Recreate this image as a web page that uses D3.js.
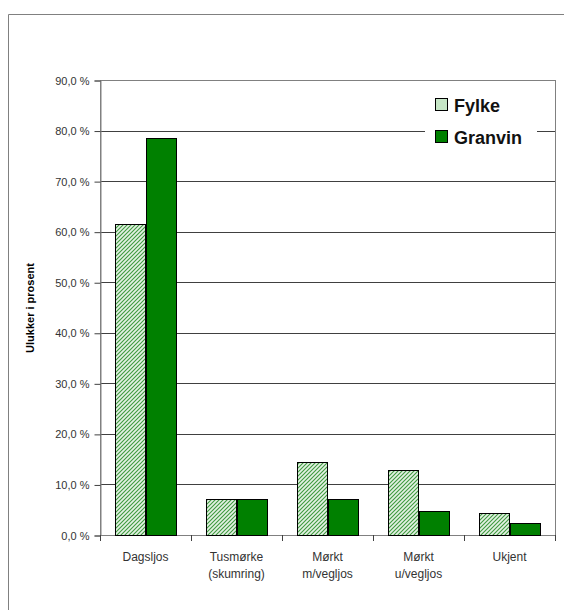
<!DOCTYPE html>
<html>
<head>
<meta charset="utf-8">
<script src="https://cdn.jsdelivr.net/npm/d3@7"></script>
<style>
  html, body { margin: 0; padding: 0; background: #fff; }
  svg { display: block; font-family: "Liberation Sans", Arial, sans-serif; }
</style>
</head>
<body>
<svg id="chart" width="564" height="610"></svg>
<script>
// Accident share by light condition, county vs. Granvin
const categories = [["Dagsljos"], ["Tusmørke", "(skumring)"], ["Mørkt", "m/vegljos"], ["Mørkt", "u/vegljos"], ["Ukjent"]];
const seriesNames = ["Fylke", "Granvin"];
const fylkeValues = [61.5, 7.1, 14.4, 12.9, 4.3];
const granvinValues = [78.6, 7.1, 7.1, 4.8, 2.4];
const yTicks = [0, 10, 20, 30, 40, 50, 60, 70, 80, 90];

const svg = d3.select("#chart");

// outer chart frame
svg.append("path")
  .attr("d", "M8.5,610 V14.5 H564")
  .attr("fill", "none").attr("stroke", "#808080").attr("stroke-width", 1);

const plot = { left: 100, right: 555, top: 80, bottom: 535 };

// hatch fill for the county series
const defs = svg.append("defs");
const pat = defs.append("pattern")
  .attr("id", "hatch").attr("patternUnits", "userSpaceOnUse")
  .attr("width", 4).attr("height", 4);
pat.append("rect").attr("width", 4).attr("height", 4).attr("fill", "#e4f2e4");
pat.append("path")
  .attr("d", "M-1,1 L1,-1 M0,4 L4,0 M3,5 L5,3")
  .attr("stroke", "#3f9a3f").attr("stroke-width", 1.1);

const x = d3.scaleBand()
  .domain(categories.map((c, i) => i))
  .range([plot.left, plot.right]);
const xInner = d3.scaleBand()
  .domain(seriesNames)
  .range([0, x.bandwidth()])
  .paddingOuter(0.5).paddingInner(0);
const y = d3.scaleLinear().domain([0, 90]).range([plot.bottom, plot.top]);

// gridlines
svg.append("g").selectAll("line")
  .data(yTicks.filter(t => t > 0 && t < 90))
  .join("line")
  .attr("x1", plot.left).attr("x2", plot.right)
  .attr("y1", d => Math.round(y(d)) + 0.5).attr("y2", d => Math.round(y(d)) + 0.5)
  .attr("stroke", "#404040").attr("stroke-width", 1);

// plot area border
svg.append("rect")
  .attr("x", plot.left + 0.5).attr("y", plot.top + 0.5)
  .attr("width", plot.right - plot.left).attr("height", plot.bottom - plot.top)
  .attr("fill", "none").attr("stroke", "#808080");

// bars
const rows = categories.map((c, i) => ({ i, values: [fylkeValues[i], granvinValues[i]] }));
const groups = svg.append("g").selectAll("g")
  .data(rows).join("g")
  .attr("transform", d => `translate(${x(d.i)},0)`);
groups.selectAll("rect")
  .data(d => d.values.map((v, k) => ({ name: seriesNames[k], v })))
  .join("rect")
  .attr("x", d => Math.round(xInner(d.name)) + 0.5)
  .attr("y", d => Math.round(y(d.v)) + 0.5)
  .attr("width", d => Math.round(xInner.bandwidth()))
  .attr("height", d => Math.round(y(0)) - Math.round(y(d.v)))
  .attr("fill", d => d.name === "Fylke" ? "url(#hatch)" : "#008000")
  .attr("stroke", "#000").attr("stroke-width", 1);

// y axis
const yAxis = d3.axisLeft(y)
  .tickValues(yTicks)
  .tickSize(6)
  .tickPadding(5)
  .tickFormat(d => d3.format(".1f")(d).replace(".", ",") + " %");
const gy = svg.append("g")
  .attr("transform", `translate(${plot.left + 0.5},0.5)`)
  .call(yAxis);
gy.select(".domain").attr("stroke", "#808080");
gy.selectAll(".tick line").attr("stroke", "#404040");
gy.selectAll(".tick text")
  .attr("fill", "#333").attr("font-size", 11)
  .attr("font-family", "'Liberation Sans', Arial, sans-serif");

// x axis ticks at category boundaries
const boundaries = d3.range(categories.length + 1).map(i => plot.left + i * x.step());
svg.append("g").selectAll("line")
  .data(boundaries).join("line")
  .attr("x1", d => Math.round(d) + 0.5).attr("x2", d => Math.round(d) + 0.5)
  .attr("y1", plot.bottom).attr("y2", plot.bottom + 6)
  .attr("stroke", "#404040");

// category labels
const xl = svg.append("g").selectAll("text")
  .data(rows).join("text")
  .attr("x", d => x(d.i) + x.bandwidth() / 2)
  .attr("y", 561)
  .attr("text-anchor", "middle")
  .attr("font-size", 12)
  .attr("fill", "#333");
xl.selectAll("tspan")
  .data(d => categories[d.i])
  .join("tspan")
  .attr("x", function () { return d3.select(this.parentNode).attr("x"); })
  .attr("dy", (d, k) => k === 0 ? 0 : 17)
  .text(d => d);

// y axis title
svg.append("text")
  .attr("transform", "translate(34,308) rotate(-90)")
  .attr("text-anchor", "middle")
  .attr("font-size", 11).attr("font-weight", "bold")
  .attr("fill", "#000")
  .text("Ulukker i prosent");

// legend
const legend = svg.append("g");
legend.append("rect")
  .attr("x", 425).attr("y", 90).attr("width", 112).attr("height", 64)
  .attr("fill", "#fff");
const legendFills = ["#c6e6c6", "#008000"];
seriesNames.forEach((name, k) => {
  const cy = 105 + k * 32;
  legend.append("rect")
    .attr("x", 435.5).attr("y", cy - 6.5).attr("width", 12).attr("height", 12)
    .attr("fill", legendFills[k]).attr("stroke", "#000");
  legend.append("text")
    .attr("x", 454).attr("y", cy + 6.5)
    .attr("font-size", 18).attr("font-weight", "bold")
    .attr("fill", "#111")
    .text(name);
});
</script>
</body>
</html>
